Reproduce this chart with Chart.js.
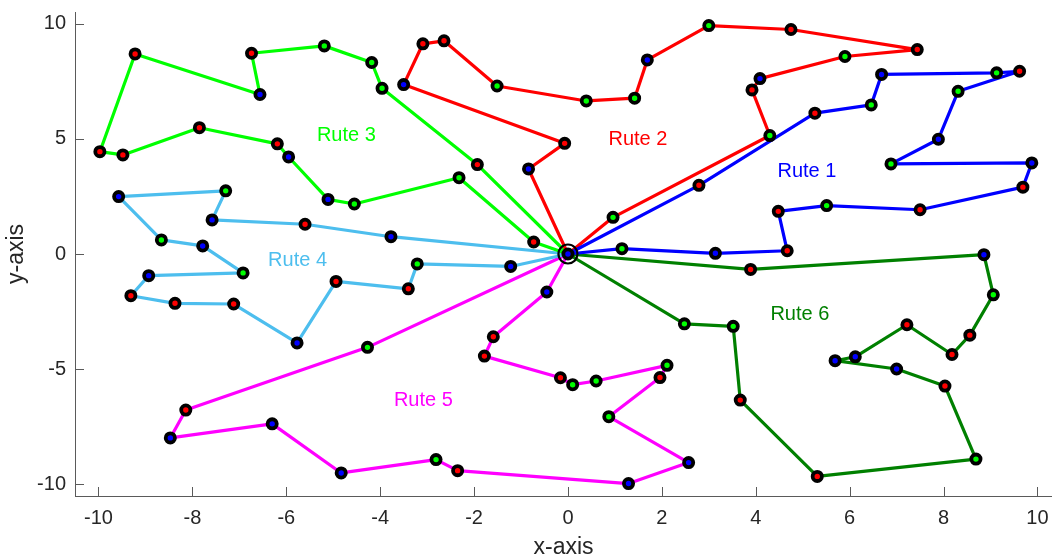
<!DOCTYPE html>
<html>
<head>
<meta charset="UTF-8">
<title>Rute Kendaraan</title>
<script src="https://cdn.jsdelivr.net/npm/chart.js"></script>
<style>
    body {
        margin: 0;
        background: #ffffff;
    }
    #wrap {
        width: 1052px;
        height: 558px;
        position: relative;
    }
</style>
</head>
<body>
<div id="wrap"><canvas id="ruteChart"></canvas></div>
<script>
// depot
const depotX = 0;
const depotY = 0;

// Rute 1
const rute1X = [2.79, 5.26, 6.46, 6.68, 9.13, 9.62, 8.31, 7.89, 6.88, 9.88, 9.69, 7.50, 5.51, 4.48, 4.67, 3.14, 1.15];
const rute1Y = [2.98, 6.11, 6.47, 7.79, 7.86, 7.93, 7.06, 4.98, 3.91, 3.95, 2.90, 1.92, 2.10, 1.85, 0.14, 0.03, 0.23];
const rute1Jenis = ['r', 'r', 'g', 'b', 'g', 'r', 'g', 'b', 'g', 'b', 'r', 'r', 'g', 'r', 'r', 'b', 'g'];

// Rute 2
const rute2X = [-0.84, -0.07, -3.50, -3.09, -2.64, -1.51, 0.39, 1.42, 1.69, 3.00, 4.75, 7.44, 5.90, 4.09, 3.92, 4.30, 0.96];
const rute2Y = [3.69, 4.80, 7.35, 9.12, 9.25, 7.29, 6.64, 6.76, 8.42, 9.91, 9.74, 8.87, 8.57, 7.61, 7.12, 5.14, 1.59];
const rute2Jenis = ['b', 'r', 'b', 'r', 'r', 'g', 'g', 'g', 'b', 'g', 'r', 'r', 'g', 'b', 'r', 'g', 'g'];

// Rute 3
const rute3X = [-1.93, -3.96, -4.18, -5.19, -6.74, -6.56, -9.22, -9.97, -9.48, -7.85, -6.19, -5.95, -5.11, -4.55, -2.32, -0.73];
const rute3Y = [3.88, 7.19, 8.31, 9.03, 8.71, 6.92, 8.68, 4.44, 4.30, 5.48, 4.78, 4.21, 2.37, 2.17, 3.31, 0.52];
const rute3Jenis = ['r', 'g', 'g', 'g', 'r', 'b', 'r', 'r', 'r', 'r', 'r', 'b', 'b', 'g', 'g', 'r'];

// Rute 4
const rute4X = [-3.77, -5.60, -7.58, -7.29, -9.57, -8.66, -7.78, -6.92, -8.93, -9.31, -8.37, -7.12, -5.77, -4.94, -3.40, -3.21, -1.22];
const rute4Y = [0.75, 1.29, 1.48, 2.74, 2.49, 0.61, 0.35, -0.82, -0.94, -1.81, -2.14, -2.17, -3.86, -1.19, -1.51, -0.43, -0.54];
const rute4Jenis = ['b', 'r', 'b', 'g', 'b', 'g', 'b', 'g', 'b', 'r', 'r', 'r', 'b', 'r', 'r', 'g', 'b'];

// Rute 5
const rute5X = [-4.27, -8.14, -8.47, -6.30, -4.83, -2.81, -2.35, 1.29, 2.57, 0.87, 1.96, 2.11, 0.60, 0.10, -0.16, -1.78, -1.59, -0.45];
const rute5Y = [-4.05, -6.77, -7.98, -7.37, -9.50, -8.92, -9.40, -9.96, -9.05, -7.06, -5.36, -4.83, -5.51, -5.67, -5.37, -4.43, -3.59, -1.65];
const rute5Jenis = ['g', 'r', 'b', 'b', 'b', 'g', 'r', 'b', 'b', 'g', 'r', 'g', 'g', 'g', 'r', 'r', 'r', 'b'];

// Rute 6
const rute6X = [3.89, 8.86, 9.06, 8.56, 8.18, 7.22, 6.12, 5.69, 7.00, 8.03, 8.69, 5.31, 3.67, 3.52, 2.48];
const rute6Y = [-0.67, -0.03, -1.77, -3.52, -4.36, -3.07, -4.46, -4.63, -4.99, -5.73, -8.90, -9.65, -6.34, -3.14, -3.03];
const rute6Jenis = ['r', 'b', 'g', 'r', 'r', 'r', 'b', 'b', 'b', 'r', 'g', 'r', 'r', 'g', 'g'];

// nama rute dan posisi teksnya (koordinat data)
const ruteNama = ['Rute 1', 'Rute 2', 'Rute 3', 'Rute 4', 'Rute 5', 'Rute 6'];
const labelX = [5.09, 1.49, -4.72, -5.76, -3.08, 4.94];
const labelY = [3.57, 4.98, 5.15, -0.26, -6.36, -2.64];

// tick
const xTicks = [-10, -8, -6, -4, -2, 0, 2, 4, 6, 8, 10];
const yTicks = [-10, -5, 0, 5, 10];

const warnaRute = ['#0000FF', '#FF0000', '#00FF00', '#4DBEEE', '#FF00FF', '#008000'];
const warnaTitik = { r: '#FF0000', g: '#00FF00', b: '#0000FF' };
const fontName = "'Liberation Sans', Arial, Helvetica, sans-serif";
const axisColor = '#5a5a5a';
const textColor = '#262626';

const semuaX = [rute1X, rute2X, rute3X, rute4X, rute5X, rute6X];
const semuaY = [rute1Y, rute2Y, rute3Y, rute4Y, rute5Y, rute6Y];
const semuaJenis = [rute1Jenis, rute2Jenis, rute3Jenis, rute4Jenis, rute5Jenis, rute6Jenis];

const lineSets = [];
const pointSets = [];
semuaX.forEach((xs, i) => {
    const ys = semuaY[i];
    const pts = xs.map((x, j) => ({ x: x, y: ys[j] }));
    lineSets.push({
        label: ruteNama[i],
        data: [{ x: depotX, y: depotY }, ...pts, { x: depotX, y: depotY }],
        showLine: true,
        borderColor: warnaRute[i],
        borderWidth: 3.2,
        borderJoinStyle: 'round',
        pointRadius: 0,
        order: 2
    });
    pointSets.push({
        label: ruteNama[i] + ' titik',
        data: pts,
        showLine: false,
        pointRadius: 4.6,
        pointBorderWidth: 3.8,
        pointBorderColor: '#000000',
        pointBackgroundColor: semuaJenis[i].map(k => warnaTitik[k]),
        order: 1
    });
});

const depotSets = [
    {
        label: 'Depot',
        data: [{ x: depotX, y: depotY }],
        showLine: false,
        pointRadius: 4.6,
        pointBorderWidth: 3.8,
        pointBorderColor: '#000000',
        pointBackgroundColor: '#0000FF',
        order: 0
    },
    {
        label: 'Depot ring',
        data: [{ x: depotX, y: depotY }],
        showLine: false,
        pointRadius: 9.5,
        pointBorderWidth: 2.2,
        pointBorderColor: '#000000',
        pointBackgroundColor: 'rgba(0,0,0,0)',
        order: 0
    }
];

// tick ke dalam (gaya MATLAB)
const tickDalam = {
    id: 'tickDalam',
    beforeDatasetsDraw(chart) {
        const { ctx, chartArea, scales } = chart;
        ctx.save();
        ctx.strokeStyle = axisColor;
        ctx.lineWidth = 1;
        ctx.beginPath();
        xTicks.forEach(v => {
            const px = Math.round(scales.x.getPixelForValue(v)) + 0.5;
            ctx.moveTo(px, chartArea.bottom);
            ctx.lineTo(px, chartArea.bottom - 9);
        });
        yTicks.forEach(v => {
            const py = Math.round(scales.y.getPixelForValue(v)) + 0.5;
            ctx.moveTo(chartArea.left, py);
            ctx.lineTo(chartArea.left + 9, py);
        });
        ctx.stroke();
        ctx.restore();
    }
};

// teks "Rute n"
const labelRute = {
    id: 'labelRute',
    afterDatasetsDraw(chart) {
        const { ctx, scales } = chart;
        ctx.save();
        ctx.font = '20px ' + fontName;
        ctx.textAlign = 'center';
        ctx.textBaseline = 'middle';
        ruteNama.forEach((nama, i) => {
            ctx.fillStyle = warnaRute[i];
            ctx.fillText(nama, scales.x.getPixelForValue(labelX[i]), scales.y.getPixelForValue(labelY[i]));
        });
        ctx.restore();
    }
};

new Chart(document.getElementById('ruteChart'), {
    type: 'scatter',
    data: {
        datasets: [...depotSets, ...pointSets, ...lineSets]
    },
    options: {
        responsive: true,
        maintainAspectRatio: false,
        animation: false,
        layout: {
            autoPadding: false,
            padding: { top: 12, left: 0, right: 0, bottom: 0 }
        },
        plugins: {
            legend: { display: false },
            tooltip: { enabled: false }
        },
        scales: {
            x: {
                type: 'linear',
                min: -10.5,
                max: 10.31,
                afterBuildTicks: s => { s.ticks = xTicks.map(v => ({ value: v })); },
                afterFit: s => { s.height = 62; s.paddingLeft = 0; s.paddingRight = 0; },
                grid: { display: false, drawTicks: false },
                border: { display: true, color: axisColor, width: 1 },
                ticks: {
                    color: textColor,
                    padding: 10,
                    maxRotation: 0,
                    autoSkip: false,
                    font: { size: 20, family: fontName },
                    callback: v => String(v)
                },
                title: {
                    display: true,
                    text: 'x-axis',
                    color: textColor,
                    padding: 0,
                    font: { size: 23, family: fontName, lineHeight: '20px' }
                }
            },
            y: {
                type: 'linear',
                min: -10.5,
                max: 10.5,
                afterBuildTicks: s => { s.ticks = yTicks.map(v => ({ value: v })); },
                afterFit: s => { s.width = 75; s.paddingTop = 0; s.paddingBottom = 0; },
                grid: { display: false, drawTicks: false },
                border: { display: true, color: axisColor, width: 1 },
                ticks: {
                    color: textColor,
                    padding: 9,
                    autoSkip: false,
                    font: { size: 20, family: fontName },
                    callback: v => String(v)
                },
                title: {
                    display: true,
                    text: 'y-axis',
                    color: textColor,
                    padding: { top: 7, bottom: 0 },
                    font: { size: 23, family: fontName, lineHeight: '20px' }
                }
            }
        }
    },
    plugins: [tickDalam, labelRute]
});
</script>
</body>
</html>
